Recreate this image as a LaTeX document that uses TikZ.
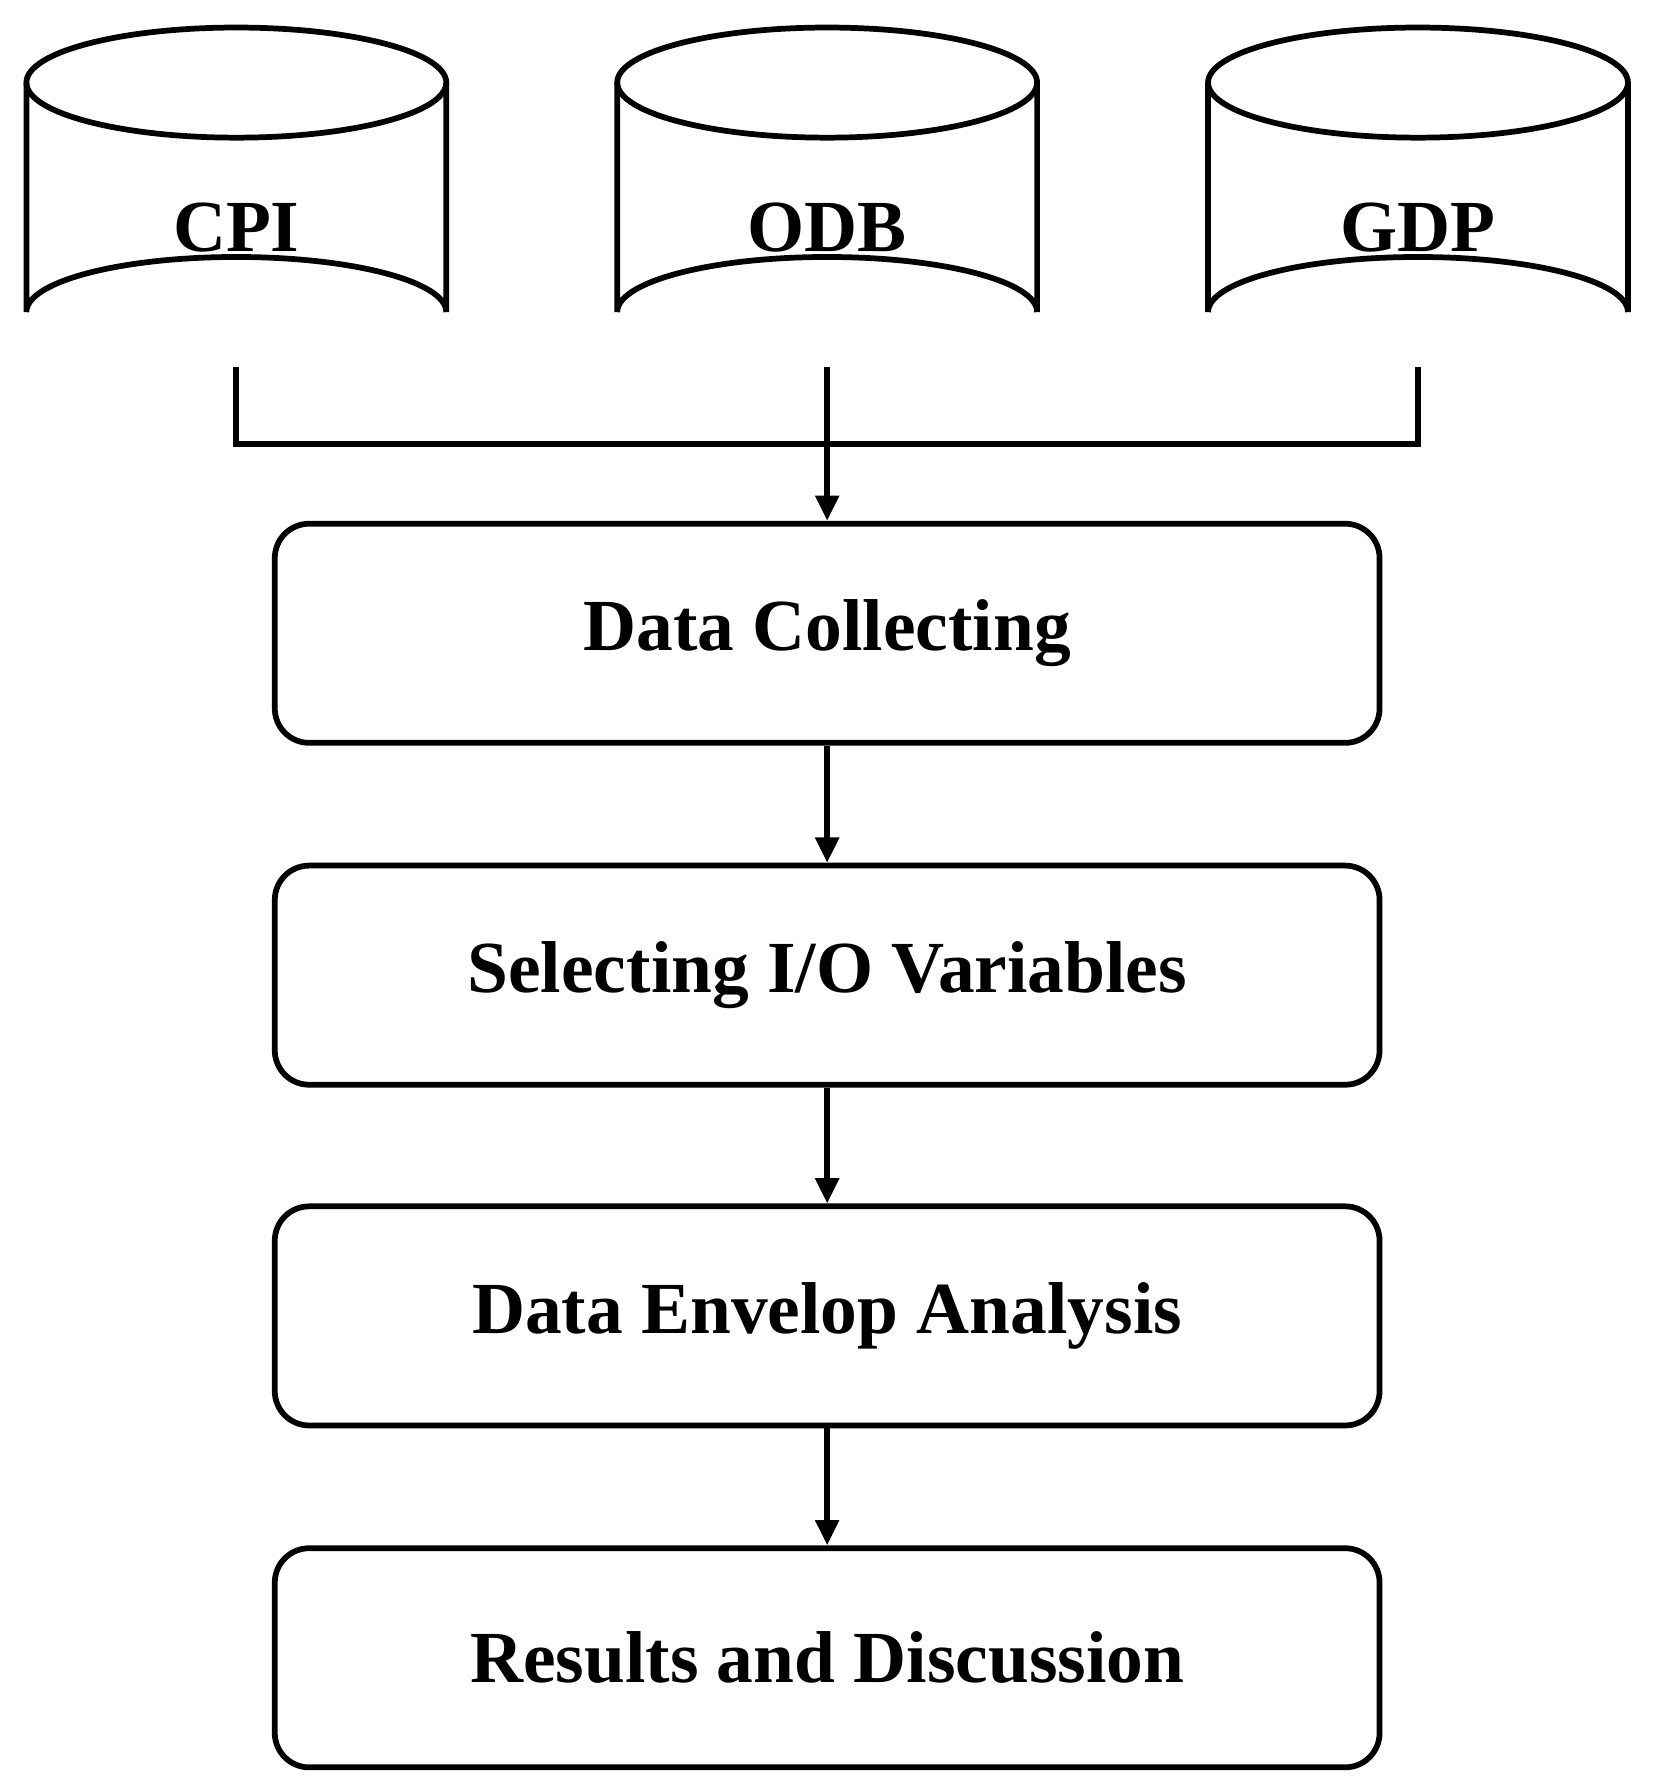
\documentclass[tikz,border=0pt]{standalone}
\usepackage{fontspec}
\setmainfont{Liberation Serif}
\usetikzlibrary{arrows.meta}
\begin{document}
\begin{tikzpicture}[x=1pt,y=-1pt,
  lbl/.style={font=\fontsize{64}{70}\selectfont\bfseries},
  box/.style={draw,line width=5pt,rounded corners=30pt,minimum width=963pt,minimum height=191pt,font=\fontsize{64}{70}\selectfont\bfseries},
  ar/.style={line width=5pt,-{Triangle[length=22pt,width=20pt]}},
  cyl/.style={line width=5pt}]
\useasboundingbox (0,0) rectangle (1440,1562);
\foreach \cx/\nm in {206/cpi,721/odb,1236/gdp}{
  \draw[cyl] (\cx,72) ellipse [x radius=183pt, y radius=48pt];
  \draw[cyl] (\cx-183,72) -- (\cx-183,272) arc[start angle=180,end angle=360,x radius=183pt,y radius=-48pt] -- (\cx+183,72);
  \coordinate (\nm b) at (\cx,320);
}
\node[lbl] (cpi) at (206,198) {CPI};
\node[lbl] (odb) at (721,198) {ODB};
\node[lbl] (gdp) at (1236,198) {GDP};
\node[box] (dc) at (721,552) {Data Collecting};
\node[box] (sv) at (721,850) {Selecting I/O Variables};
\node[box] (dea) at (721,1147) {Data Envelop Analysis};
\node[box] (rd) at (721,1445) {Results and Discussion};
\coordinate (j) at (721,387);
\draw[line width=5pt] (cpib) |- (j) -| (gdpb);
\draw[line width=5pt] (odbb) -- (j);
\draw[ar] (j) -- (dc.north);
\draw[ar] (dc) -- (sv);
\draw[ar] (sv) -- (dea);
\draw[ar] (dea) -- (rd);
\end{tikzpicture}
\end{document}
